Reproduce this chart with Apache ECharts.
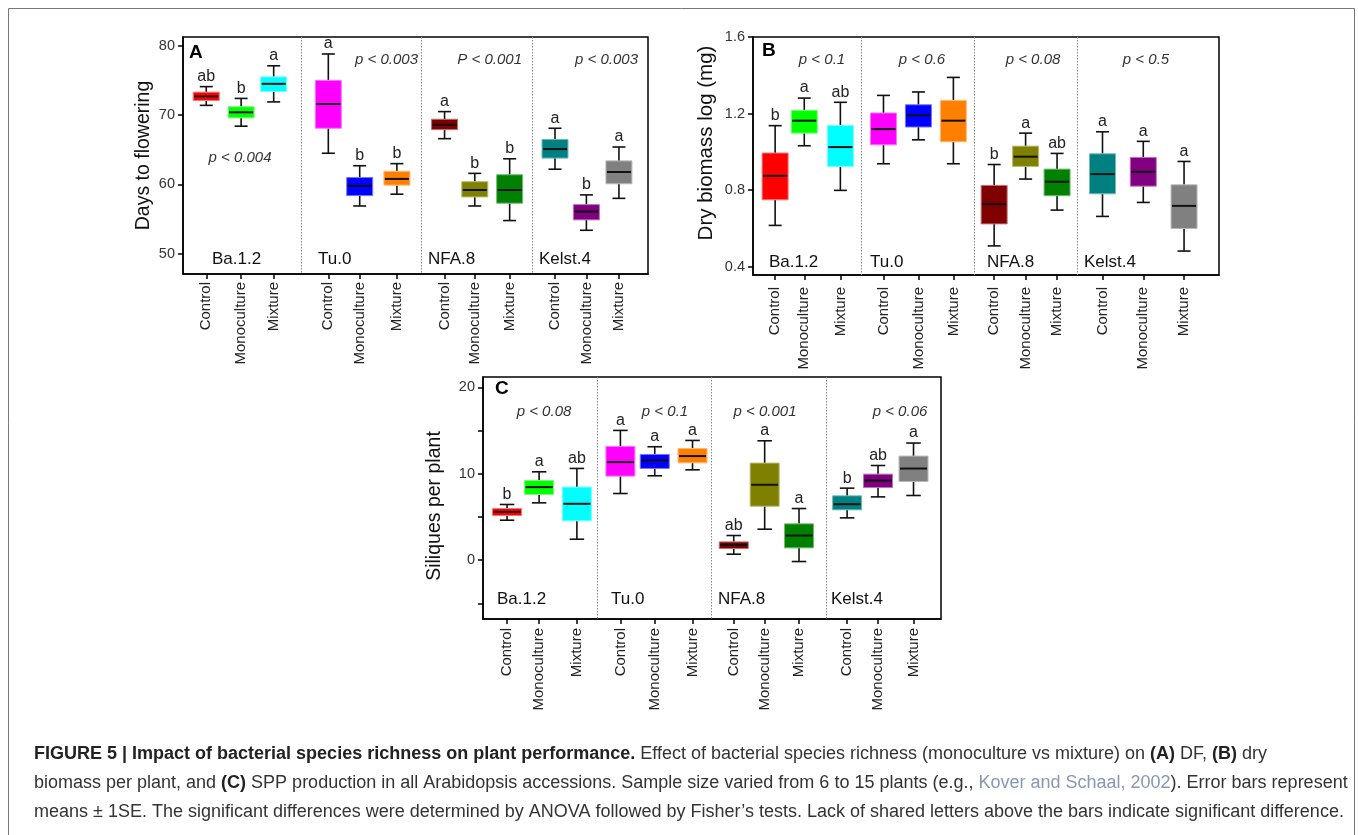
<!DOCTYPE html>
<html>
<head>
<meta charset="utf-8">
<title>Figure 5</title>
<script src="https://cdn.jsdelivr.net/npm/echarts@6/dist/echarts.min.js"></script>
<style>
html, body { margin: 0; padding: 0; background: #fff; }
#main { width: 1358px; height: 835px; }
</style>
</head>
<body>
<div id="main"></div>
<script>
var accessions = ['Ba.1.2', 'Tu.0', 'NFA.8', 'Kelst.4'];
var treatments = ['Control', 'Monoculture', 'Mixture'];
// one colour per box, accession by accession
var boxColors = ['#ff0000', '#00ff00', '#00ffff', '#ff00ff', '#0000ff', '#ff8000',
  '#800000', '#808000', '#008000', '#008080', '#800080', '#808080'];

// box positions on each panel's x axis (0..4, one unit per accession)
var xPosA = [0.2, 0.5, 0.78, 1.25, 1.52, 1.84, 2.25, 2.51, 2.81, 3.2, 3.47, 3.75];
var xPosB = [0.19, 0.44, 0.75, 1.12, 1.42, 1.72, 2.07, 2.34, 2.61, 3.0, 3.35, 3.7];
var xPosC = [0.21, 0.49, 0.82, 1.2, 1.5, 1.83, 2.19, 2.46, 2.76, 3.18, 3.45, 3.76];
var dividersA = [1.015, 2.047, 3.005];
var dividersB = [0.925, 1.898, 2.778];
var dividersC = [0.997, 1.99, 2.993];

// [low whisker, Q1, median, Q3, high whisker]
var daysFlowering = [
  [71.4, 72.1, 72.7, 73.3, 74.1], [68.4, 69.6, 70.4, 71.2, 72.4], [71.9, 73.4, 74.5, 75.5, 77.1],
  [64.5, 68.1, 71.6, 75.0, 78.8], [56.9, 58.4, 59.8, 61.0, 62.7], [58.6, 59.9, 60.8, 61.9, 63.0],
  [66.6, 67.9, 68.6, 69.4, 70.5], [56.9, 58.2, 59.2, 60.4, 61.6], [54.8, 57.3, 59.2, 61.4, 63.7],
  [62.2, 63.8, 65.1, 66.5, 68.1], [53.4, 54.9, 56.1, 57.1, 58.5], [58.0, 60.1, 61.8, 63.4, 65.4]
];
var dryBiomass = [
  [0.616, 0.75, 0.875, 0.994, 1.137], [1.032, 1.098, 1.163, 1.217, 1.281], [0.799, 0.924, 1.025, 1.138, 1.259],
  [0.938, 1.037, 1.119, 1.203, 1.295], [1.063, 1.13, 1.191, 1.246, 1.313], [0.938, 1.053, 1.163, 1.269, 1.389],
  [0.509, 0.624, 0.727, 0.825, 0.934], [0.858, 0.924, 0.975, 1.03, 1.098], [0.696, 0.771, 0.844, 0.91, 0.992],
  [0.663, 0.781, 0.884, 0.99, 1.105], [0.736, 0.821, 0.896, 0.971, 1.055], [0.482, 0.6, 0.718, 0.828, 0.95]
];
var siliques = [
  [4.63, 5.17, 5.6, 5.98, 6.45], [6.64, 7.61, 8.46, 9.23, 10.23], [2.43, 4.56, 6.53, 8.46, 10.62],
  [7.72, 9.73, 11.35, 13.17, 15.02], [9.77, 10.62, 11.54, 12.24, 13.13], [10.46, 11.27, 12.05, 12.93, 13.86],
  [0.7, 1.35, 1.78, 2.12, 2.86], [3.59, 6.25, 8.73, 11.24, 13.82], [-0.15, 1.43, 2.86, 4.21, 5.98],
  [4.9, 5.83, 6.48, 7.45, 8.34], [7.33, 8.41, 9.22, 9.96, 10.96], [7.49, 9.11, 10.61, 12.05, 13.56]
];

// significance letters above the boxes
var lettersA = ['ab', 'b', 'a', 'a', 'b', 'b', 'a', 'b', 'b', 'a', 'b', 'a'];
var lettersB = ['b', 'a', 'ab', '', '', '', 'b', 'a', 'ab', 'a', 'a', 'a'];
var lettersC = ['b', 'a', 'ab', 'a', 'a', 'a', 'ab', 'a', 'a', 'b', 'ab', 'a'];

// p values per accession
var pValuesA = ['p < 0.004', 'p < 0.003', 'P < 0.001', 'p < 0.003'];
var pValuesB = ['p < 0.1', 'p < 0.6', 'p < 0.08', 'p < 0.5'];
var pValuesC = ['p < 0.08', 'p < 0.1', 'p < 0.001', 'p < 0.06'];

var yTicksA = [50, 60, 70, 80];
var yTicksB = [0.4, 0.8, 1.2, 1.6];
var yTicksC = [-5, 0, 5, 10, 15, 20];
var yLabelsC = [0, 10, 20];

var FONT = '"Liberation Sans", Arial, sans-serif';

function lighten(hex, t) {
  var n = parseInt(hex.slice(1), 16);
  var r = (n >> 16) & 255, g = (n >> 8) & 255, b = n & 255;
  r = Math.round(r + (255 - r) * t);
  g = Math.round(g + (255 - g) * t);
  b = Math.round(b + (255 - b) * t);
  return 'rgb(' + r + ',' + g + ',' + b + ')';
}

function boxSeries(idx, xPos, stats, letters, boxW) {
  var capW = boxW * 0.5;
  return {
    type: 'custom',
    xAxisIndex: idx,
    yAxisIndex: idx,
    clip: false,
    silent: true,
    encode: { x: 0, y: [1, 2, 3, 4, 5] },
    data: stats.map(function (s, i) { return [xPos[i]].concat(s); }),
    renderItem: function (params, api) {
      var i = params.dataIndex;
      var x = api.value(0);
      var low = api.coord([x, api.value(1)]);
      var q1 = api.coord([x, api.value(2)]);
      var med = api.coord([x, api.value(3)]);
      var q3 = api.coord([x, api.value(4)]);
      var high = api.coord([x, api.value(5)]);
      var cx = med[0];
      var color = boxColors[i];
      var ink = { stroke: '#111', lineWidth: 1.6 };
      return {
        type: 'group',
        children: [
          { type: 'line', shape: { x1: cx, y1: high[1], x2: cx, y2: q3[1] }, style: ink },
          { type: 'line', shape: { x1: cx, y1: q1[1], x2: cx, y2: low[1] }, style: ink },
          { type: 'line', shape: { x1: cx - capW / 2, y1: high[1], x2: cx + capW / 2, y2: high[1] }, style: ink },
          { type: 'line', shape: { x1: cx - capW / 2, y1: low[1], x2: cx + capW / 2, y2: low[1] }, style: ink },
          {
            type: 'rect',
            shape: { x: cx - boxW / 2, y: q3[1], width: boxW, height: q1[1] - q3[1] },
            style: { fill: color, stroke: lighten(color, 0.45), lineWidth: 1 }
          },
          { type: 'line', shape: { x1: cx - boxW / 2 + 1, y1: med[1], x2: cx + boxW / 2 - 1, y2: med[1] }, style: { stroke: '#111', lineWidth: 2 } },
          {
            type: 'text',
            x: cx, y: high[1] - 2,
            style: { text: letters[i], align: 'center', verticalAlign: 'bottom', fill: '#222', font: '16px ' + FONT }
          }
        ]
      };
    }
  };
}

function dividerSeries(idx, divs, yMin) {
  return {
    type: 'custom',
    xAxisIndex: idx,
    yAxisIndex: idx,
    silent: true,
    encode: { x: 0, y: 1 },
    data: divs.map(function (d) { return [d, yMin]; }),
    renderItem: function (params, api) {
      var cs = params.coordSys;
      var px = Math.round(api.coord([api.value(0), api.value(1)])[0]) + 0.5;
      return {
        type: 'line',
        shape: { x1: px, y1: cs.y, x2: px, y2: cs.y + cs.height },
        style: { stroke: '#8a8a8a', lineWidth: 1, lineDash: [1.5, 1.5] }
      };
    }
  };
}

function xAxisFor(idx, xPos, margin) {
  return {
    type: 'value', gridIndex: idx, min: 0, max: 4,
    splitLine: { show: false },
    axisLine: { onZero: false, lineStyle: { color: '#000', width: 1.5 } },
    axisTick: { customValues: xPos, length: 5, lineStyle: { color: '#000', width: 1.5 } },
    axisLabel: {
      customValues: xPos, rotate: 90, margin: margin, color: '#222', fontSize: 15, fontFamily: FONT,
      formatter: function (v) {
        var best = 0;
        for (var k = 1; k < xPos.length; k++) {
          if (Math.abs(xPos[k] - v) < Math.abs(xPos[best] - v)) best = k;
        }
        return treatments[best % 3];
      }
    }
  };
}

function yAxisFor(idx, min, max, ticks, labels, name, gap, nameSize, namePad, fmt) {
  return {
    type: 'value', gridIndex: idx, min: min, max: max,
    name: name, nameLocation: 'middle', nameGap: gap,
    nameTextStyle: { fontSize: nameSize, color: '#111', fontFamily: FONT, padding: namePad },
    splitLine: { show: false },
    axisLine: { show: true, onZero: false, lineStyle: { color: '#000', width: 1.5 } },
    axisTick: { customValues: ticks, length: 5, lineStyle: { color: '#000', width: 1.5 } },
    axisLabel: { customValues: labels, margin: 8, color: '#333', fontSize: 14.5, fontFamily: FONT, formatter: fmt }
  };
}

function txt(x, y, text, opts) {
  opts = opts || {};
  return {
    type: 'text', x: x, y: y, silent: true,
    style: {
      text: text,
      align: opts.align || 'left',
      verticalAlign: 'middle',
      fill: opts.fill || '#222',
      font: (opts.style || '') + ' ' + (opts.weight || '') + ' ' + (opts.size || 17) + 'px ' + FONT
    }
  };
}

var graphics = [
  { type: 'rect', shape: { x: 8.5, y: 8.5, width: 1346, height: 840 }, style: { fill: 'none', stroke: '#777', lineWidth: 1 }, silent: true },
  // panel letters
  txt(189, 53, 'A', { weight: 'bold', size: 19, fill: '#000' }),
  txt(762, 51, 'B', { weight: 'bold', size: 19, fill: '#000' }),
  txt(495, 389, 'C', { weight: 'bold', size: 19, fill: '#000' }),
  // p values
  txt(240, 158, pValuesA[0], { align: 'center', style: 'italic', size: 15, fill: '#333' }),
  txt(418, 60, pValuesA[1], { align: 'right', style: 'italic', size: 15, fill: '#333' }),
  txt(522, 60, pValuesA[2], { align: 'right', style: 'italic', size: 15, fill: '#333' }),
  txt(638, 60, pValuesA[3], { align: 'right', style: 'italic', size: 15, fill: '#333' }),
  txt(822, 60, pValuesB[0], { align: 'center', style: 'italic', size: 15, fill: '#333' }),
  txt(922, 60, pValuesB[1], { align: 'center', style: 'italic', size: 15, fill: '#333' }),
  txt(1033, 60, pValuesB[2], { align: 'center', style: 'italic', size: 15, fill: '#333' }),
  txt(1146, 60, pValuesB[3], { align: 'center', style: 'italic', size: 15, fill: '#333' }),
  txt(544, 412, pValuesC[0], { align: 'center', style: 'italic', size: 15, fill: '#333' }),
  txt(665, 412, pValuesC[1], { align: 'center', style: 'italic', size: 15, fill: '#333' }),
  txt(765, 412, pValuesC[2], { align: 'center', style: 'italic', size: 15, fill: '#333' }),
  txt(900, 412, pValuesC[3], { align: 'center', style: 'italic', size: 15, fill: '#333' })
];

// accession names at the foot of each panel
[[212, 318, 428, 539, 259], [769, 870, 987, 1084, 262], [497, 611, 718, 831, 599]].forEach(function (row) {
  accessions.forEach(function (name, k) {
    graphics.push(txt(row[k], row[4], name, { size: 17, fill: '#111' }));
  });
});

// caption
var CAP = 18;
var capStyle = {
  b: { fontWeight: 'bold', fontSize: CAP, fontFamily: FONT, fill: '#222' },
  l: { fontSize: CAP, fontFamily: FONT, fill: '#8797b4' }
};
var captionLines = [
  '{b|FIGURE 5 | Impact of bacterial species richness on plant performance.} Effect of bacterial species richness (monoculture vs mixture) on {b|(A)} DF, {b|(B)} dry',
  'biomass per plant, and {b|(C)} SPP production in all Arabidopsis accessions. Sample size varied from 6 to 15 plants (e.g., {l|Kover and Schaal, 2002}). Error bars represent',
  'means \u00b1 1SE. The significant differences were determined by ANOVA followed by Fisher\u2019s tests. Lack of shared letters above the bars indicate significant difference.'
];
[754, 783, 812].forEach(function (y, k) {
  graphics.push({
    type: 'text', x: 34, y: y, silent: true,
    style: {
      text: captionLines[k], rich: capStyle, verticalAlign: 'middle',
      fill: '#333', fontSize: CAP, fontFamily: FONT
    }
  });
});

var chart = echarts.init(document.getElementById('main'));
chart.setOption({
  animation: false,
  backgroundColor: '#fff',
  grid: [
    { left: 183, top: 37, width: 465, height: 237, show: true, borderColor: '#000', borderWidth: 1.5 },
    { left: 753, top: 37, width: 466, height: 238, show: true, borderColor: '#000', borderWidth: 1.5 },
    { left: 483, top: 377, width: 458, height: 242, show: true, borderColor: '#000', borderWidth: 1.5 }
  ],
  xAxis: [xAxisFor(0, xPosA, 8), xAxisFor(1, xPosB, 12), xAxisFor(2, xPosC, 9)],
  yAxis: [
    yAxisFor(0, 47.1, 81.25, yTicksA, yTicksA, 'Days to flowering', 29, 19.5, 0),
    yAxisFor(1, 0.357, 1.6, yTicksB, yTicksB, 'Dry biomass log (mg)', 36, 20.5, [0, 0, 0, 26], function (v) { return v.toFixed(1); }),
    yAxisFor(2, -6.8, 21.2, yTicksC, yLabelsC, 'Siliques per plant', 38, 19.5, [0, 16, 0, 0])
  ],
  series: [
    dividerSeries(0, dividersA, 50),
    dividerSeries(1, dividersB, 0.4),
    dividerSeries(2, dividersC, 0),
    boxSeries(0, xPosA, daysFlowering, lettersA, 26),
    boxSeries(1, xPosB, dryBiomass, lettersB, 26),
    boxSeries(2, xPosC, siliques, lettersC, 29)
  ],
  graphic: graphics
});
</script>
</body>
</html>
